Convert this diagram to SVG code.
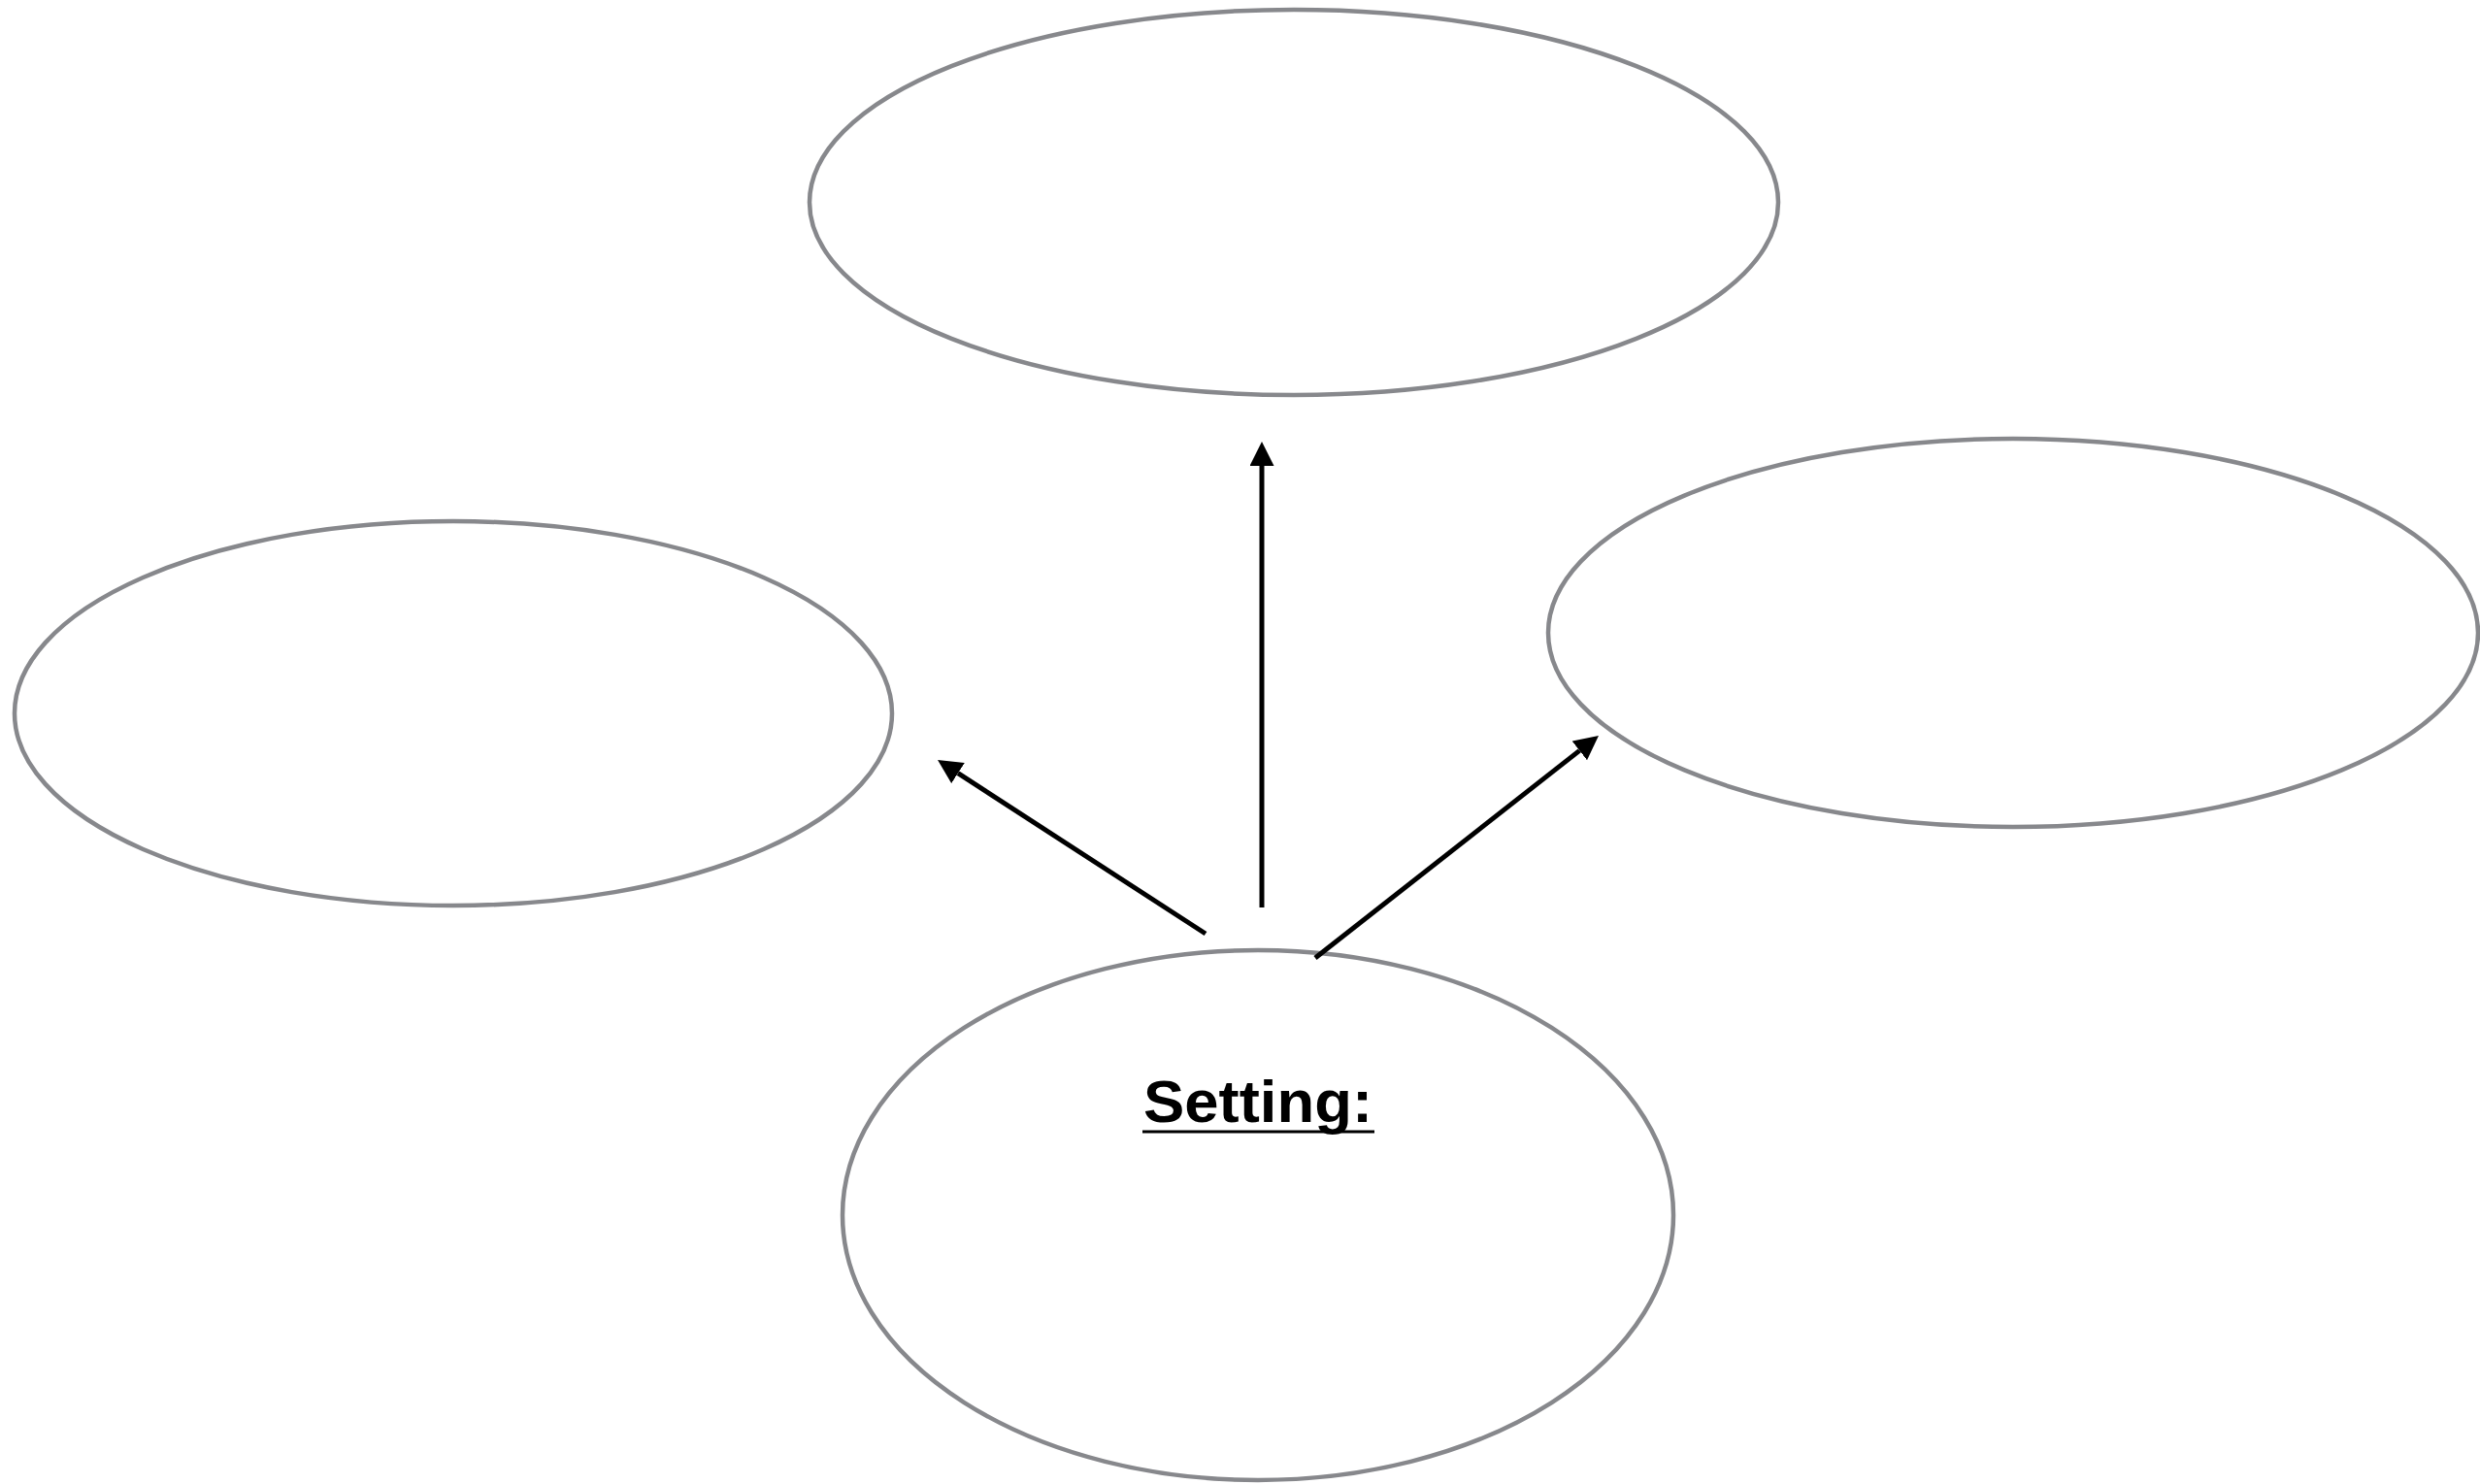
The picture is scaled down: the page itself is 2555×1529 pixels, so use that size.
<svg xmlns="http://www.w3.org/2000/svg" width="2555" height="1529" viewBox="0 0 2555 1529">
  <style>
    .node { fill: #ffffff; stroke: #87888c; stroke-width: 4.5; }
    .conn { stroke: #000000; stroke-width: 5; fill: none; }
    .label { font-family: "Liberation Sans", Arial, sans-serif; font-weight: bold; font-size: 62px; fill: #000000; }
  </style>
  <defs>
    <marker id="arrow" markerUnits="userSpaceOnUse" markerWidth="26" markerHeight="26" refX="0" refY="12.5" orient="auto" viewBox="0 0 26 26">
      <path d="M0,0 L25,12.5 L0,25 Z" fill="#000000"/>
    </marker>
  </defs>
  <rect x="0" y="0" width="2555" height="1529" fill="#ffffff"/>
  <g id="node-top">
    <ellipse class="node" cx="1333" cy="208.5" rx="499" ry="198.5"/>
  </g>
  <g id="node-left">
    <ellipse class="node" cx="467" cy="735" rx="452" ry="198"/>
  </g>
  <g id="node-right">
    <ellipse class="node" cx="2074" cy="652" rx="479" ry="200"/>
  </g>
  <g id="node-setting">
    <ellipse class="node" cx="1296" cy="1252" rx="428" ry="273"/>
    <text class="label" x="1178" y="1156" textLength="236" lengthAdjust="spacingAndGlyphs">Setting:</text>
    <line x1="1177" y1="1166" x2="1416" y2="1166" stroke="#000000" stroke-width="3"/>
  </g>
  <g id="connectors">
    <line class="conn" x1="1300" y1="935" x2="1300" y2="480" marker-end="url(#arrow)"/>
    <line class="conn" x1="1242" y1="962" x2="987" y2="796.6" marker-end="url(#arrow)"/>
    <line class="conn" x1="1355" y1="987" x2="1627.3" y2="773.4" marker-end="url(#arrow)"/>
  </g>
</svg>
